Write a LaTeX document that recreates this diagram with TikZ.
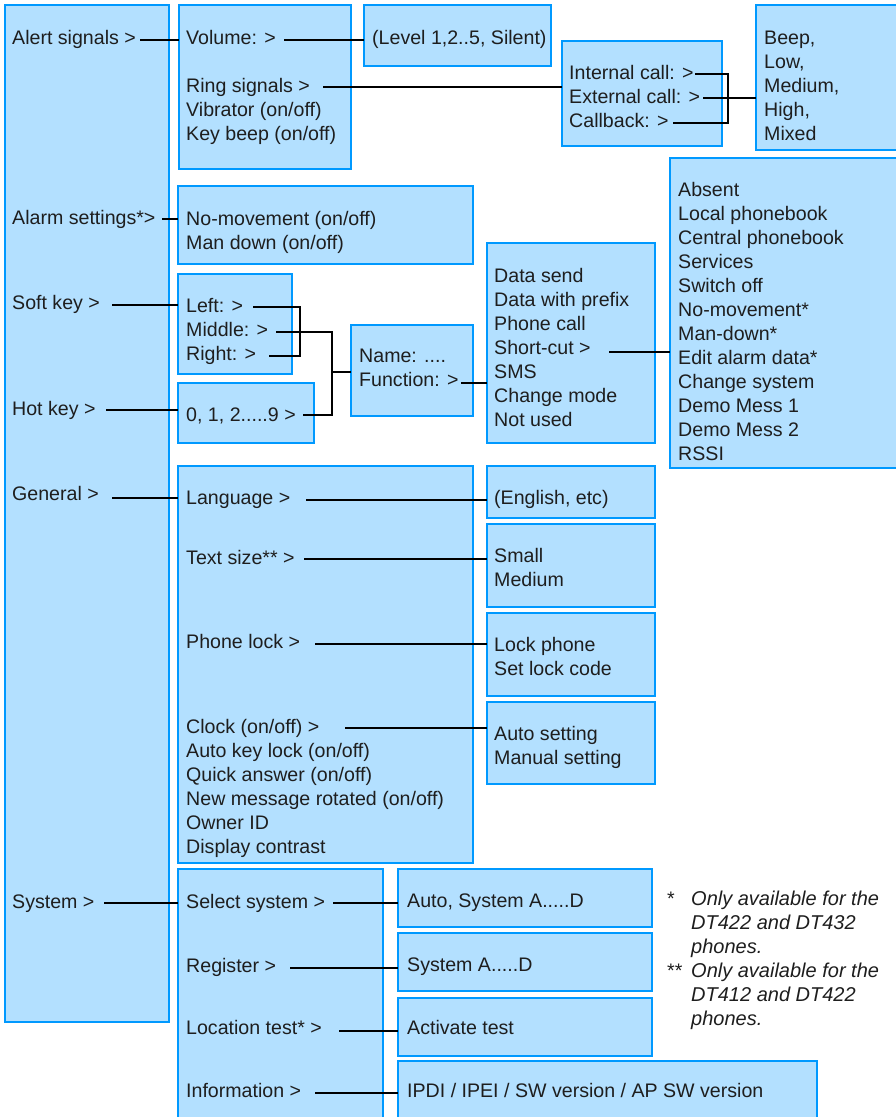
\documentclass[tikz,border=0pt]{standalone}
\usepackage{fontspec}
\setmainfont{Liberation Sans}
\definecolor{boxfill}{RGB}{179,224,255}
\definecolor{boxline}{RGB}{0,153,255}
\definecolor{ink}{RGB}{30,30,30}
\tikzset{
  box/.style={draw=boxline, fill=boxfill, line width=2pt, inner sep=0pt, outer sep=0pt, anchor=north west},
  txt/.style={anchor=base west, inner sep=0pt, text=ink, font=\fontsize{19.6}{24}\selectfont},
  note/.style={anchor=base west, inner sep=0pt, text=ink, font=\fontsize{20}{24}\selectfont\itshape},
  conn/.style={draw=black, line width=1.8pt},
}
\newcommand\mkbox[5]{\node[box, minimum width={#4-#2}, minimum height={#5-#3}] (#1) at (#2,#3) {};}
\newcommand\mklines[4]{\foreach \t [count=\i] in {#4} \node[txt] (#1\i) at (#2,{#3+24*(\i-1)}) {\t};}
\begin{document}
\begin{tikzpicture}[x=1pt,y=-1pt]
\useasboundingbox (0,0) rectangle (896,1117);
% boxes
\mkbox{L}{5}{5}{169}{1022}
\mkbox{vol}{179}{5}{351}{169}
\mkbox{lvl}{364}{5}{551}{66}
\mkbox{ring}{562}{41}{722}{146}
\mkbox{beep}{756}{5}{910}{150}
\mkbox{alarm}{178}{186}{473}{264}
\mkbox{soft}{178}{274}{292}{374}
\mkbox{hot}{178}{383}{314}{443}
\mkbox{name}{351}{325}{473}{416}
\mkbox{data}{487}{243}{655}{443}
\mkbox{abs}{670}{158}{910}{468}
\mkbox{gen}{178}{466}{473}{863}
\mkbox{eng}{487}{466}{655}{518}
\mkbox{small}{487}{524}{655}{607}
\mkbox{lock}{487}{613}{655}{696}
\mkbox{clock}{487}{702}{655}{784}
\mkbox{sys}{178}{869}{383}{1135}
\mkbox{selsys}{398}{869}{652}{927}
\mkbox{reg}{398}{933}{652}{991}
\mkbox{act}{398}{998}{652}{1056}
\mkbox{ipdi}{398}{1061}{817}{1135}
% left column
\node[txt] (tAlert) at (12,44) {Alert signals >};
\node[txt] (tAlarm) at (12,224) {Alarm settings*>};
\node[txt] (tSoft) at (12,309) {Soft key >};
\node[txt] (tHot) at (12,415) {Hot key >};
\node[txt] (tGen) at (12,500) {General >};
\node[txt] (tSys) at (12,908) {System >};
% alert signals
\node[txt] (tVol) at (186,44) {Volume: >};
\mklines{tv}{186}{92}{Ring signals >,Vibrator (on/off),Key beep (on/off)}
\node[txt] (tLvl) at (372,44) {(Level 1,2..5, Silent)};
\mklines{tr}{569}{79}{Internal call: >,External call: >,Callback: >}
\mklines{tb}{764}{44}{{Beep,},{Low,},{Medium,},{High,},Mixed}
% alarm
\mklines{ta}{186}{225}{No-movement (on/off),Man down (on/off)}
% soft / hot keys
\mklines{ts}{186}{312}{Left: >,Middle: >,Right: >}
\node[txt] (tHotk) at (186,421) {0, 1, 2.....9 >};
\node[txt] (tn1) at (359,362) {Name: ....};
\node[txt] (tn2) at (359,386) {Function: >};
\mklines{td}{494}{282}{Data send,Data with prefix,Phone call,Short-cut >,SMS,Change mode,Not used}
\mklines{tab}{678}{196}{Absent,Local phonebook,Central phonebook,Services,Switch off,No-movement*,Man-down*,Edit alarm data*,Change system,Demo Mess 1,Demo Mess 2,RSSI}
% general
\node[txt] (tLang) at (186,504) {Language >};
\node[txt] (tTsz) at (186,564) {Text size** >};
\node[txt] (tPl) at (186,648) {Phone lock >};
\mklines{tg}{186}{733}{Clock (on/off) >,Auto key lock (on/off),Quick answer (on/off),New message rotated (on/off),Owner ID,Display contrast}
\node[txt] (tEng) at (494,504) {(English, etc)};
\mklines{tsm}{494}{562}{Small,Medium}
\mklines{tlk}{494}{651}{Lock phone,Set lock code}
\mklines{tck}{494}{740}{Auto setting,Manual setting}
% system
\node[txt] (tSel) at (186,908) {Select system >};
\node[txt] (tReg) at (186,972) {Register >};
\node[txt] (tLoc) at (186,1034) {Location test* >};
\node[txt] (tInf) at (186,1097) {Information >};
\node[txt] (tSelS) at (407,907) {Auto, System A.....D};
\node[txt] (tRegS) at (407,971) {System A.....D};
\node[txt] (tActS) at (407,1034) {Activate test};
\node[txt] (tInfS) at (407,1097) {IPDI / IPEI / SW version / AP SW version};
% footnotes
\node[txt] (fs1) at (667,905) {*};
\node[txt] (fs2) at (667,977) {**};
\foreach \t [count=\i] in {Only available for the,DT422 and DT432,phones.,Only available for the,DT412 and DT422,phones.}
  \node[note] (fn\i) at (691,{905+24*(\i-1)}) {\t};
% connector start points
\coordinate (cAlert) at (140,40);
\coordinate (cVol) at (284,40);
\coordinate (cRing) at (323,87);
\coordinate (cInt) at (695,74);
\coordinate (cExt) at (703,98);
\coordinate (cCb) at (673,123);
\coordinate (bRing) at (728,74);
\coordinate (cAlarm) at (162,219);
\coordinate (cSoft) at (112,305);
\coordinate (cLeft) at (253,307);
\coordinate (cRight) at (269,356);
\coordinate (bLR) at (300,307);
\coordinate (cMid) at (276,332);
\coordinate (bMid) at (332,332);
\coordinate (bJoin) at (332,372);
\coordinate (cNum) at (303,415);
\coordinate (cHot) at (106,410);
\coordinate (cFun) at (461,383);
\coordinate (cShort) at (609,352);
\coordinate (cGen) at (112,498);
\coordinate (cLang) at (306,500);
\coordinate (cTsz) at (304,559);
\coordinate (cPl) at (315,644);
\coordinate (cClk) at (345,728);
\coordinate (cSys) at (104,903);
\coordinate (cSel) at (333,903);
\coordinate (cReg) at (290,968);
\coordinate (cLoc) at (339,1031);
\coordinate (cInf) at (315,1093);
% connectors
\draw[conn] (cAlert) -- (cAlert -| vol.west);
\draw[conn] (cVol) -- (cVol -| lvl.west);
\draw[conn] (cRing) -- (cRing -| ring.west);
\draw[conn] (cInt) -- (bRing) |- (cCb);
\draw[conn] (cExt) -- (cExt -| beep.west);
\draw[conn] (cAlarm) -- (cAlarm -| alarm.west);
\draw[conn] (cSoft) -- (cSoft -| soft.west);
\draw[conn] (cLeft) -- (bLR) |- (cRight);
\draw[conn] (cMid) -- (bMid) |- (cNum);
\draw[conn] (bJoin) -- (bJoin -| name.west);
\draw[conn] (cHot) -- (cHot -| hot.west);
\draw[conn] (cFun) -- (cFun -| data.west);
\draw[conn] (cShort) -- (cShort -| abs.west);
\draw[conn] (cGen) -- (cGen -| gen.west);
\draw[conn] (cLang) -- (cLang -| eng.west);
\draw[conn] (cTsz) -- (cTsz -| small.west);
\draw[conn] (cPl) -- (cPl -| lock.west);
\draw[conn] (cClk) -- (cClk -| clock.west);
\draw[conn] (cSys) -- (cSys -| sys.west);
\draw[conn] (cSel) -- (cSel -| selsys.west);
\draw[conn] (cReg) -- (cReg -| reg.west);
\draw[conn] (cLoc) -- (cLoc -| act.west);
\draw[conn] (cInf) -- (cInf -| ipdi.west);
\end{tikzpicture}
\end{document}
